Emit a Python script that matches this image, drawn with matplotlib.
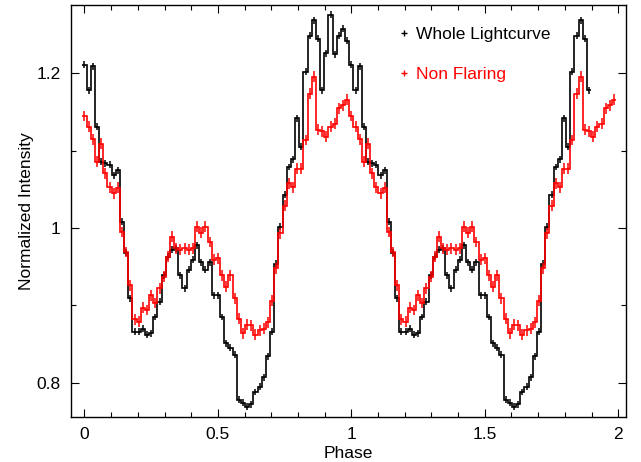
import numpy as np
import matplotlib
matplotlib.use('Agg')
import matplotlib.pyplot as plt
from matplotlib.lines import Line2D
from matplotlib.ticker import MultipleLocator, FormatStrFormatter

plt.rcParams['font.family'] = ['Liberation Sans', 'DejaVu Sans']

# one cycle of the folded lightcurve, 64 phase bins (bin k centred on k/64)
n_bins = 64
whole = [1.211, 1.178, 1.209, 1.131, 1.086, 1.084, 1.082, 1.068, 1.075,
         1.008, 0.968, 0.909, 0.866, 0.866, 0.870, 0.862, 0.864, 0.885, 0.905, 0.939,
         0.963, 0.972, 0.974, 0.939, 0.922, 0.946, 0.959, 0.978, 0.956, 0.946,
         0.956, 0.913, 0.913, 0.885, 0.851, 0.845, 0.836, 0.778, 0.774, 0.769,
         0.772, 0.788, 0.795, 0.807, 0.834, 0.866, 0.954, 1.002, 1.043, 1.079,
         1.089, 1.142, 1.105, 1.202, 1.249, 1.269, 1.245, 1.178, 1.226, 1.276,
         1.225, 1.249, 1.258, 1.242]
non_flaring = [1.145, 1.131, 1.115, 1.086, 1.109, 1.071, 1.053, 1.045, 1.052, 0.995,
               0.969, 0.926, 0.882, 0.879, 0.897, 0.894, 0.913, 0.903, 0.922, 0.937,
               0.963, 0.989, 0.974, 0.972, 0.974, 0.972, 0.974, 1.002, 0.994, 1.002,
               0.982, 0.959, 0.961, 0.939, 0.924, 0.939, 0.909, 0.883, 0.864, 0.875,
               0.874, 0.862, 0.868, 0.870, 0.878, 0.906, 0.948, 0.993, 1.029, 1.058,
               1.053, 1.077, 1.077, 1.114, 1.174, 1.196, 1.127, 1.125, 1.118, 1.131,
               1.135, 1.155, 1.159, 1.166]
whole_err = 0.0045
non_flaring_err = 0.007
whole_bins_cycle2 = 58  # whole lightcurve stops near phase 1.89

labels = ['Whole Lightcurve', 'Non Flaring']
colors = ['black', 'red']

fig = plt.figure(figsize=(6.41, 4.62), dpi=100)
ax = fig.add_axes([0.111, 0.098, 0.866, 0.892])

edges = (np.arange(2 * n_bins + 1) - 0.5) / n_bins
centers = np.arange(2 * n_bins) / n_bins

black_vals = np.array(whole + whole[:whole_bins_cycle2])
red_vals = np.array(non_flaring * 2)
nb = len(black_vals)

ax.stairs(black_vals, edges[:nb + 1], baseline=None, color=colors[0], lw=1.2)
ax.errorbar(centers[:nb], black_vals, yerr=whole_err, fmt='none',
            ecolor=colors[0], elinewidth=1.1)
ax.stairs(red_vals, edges, baseline=None, color=colors[1], lw=1.2)
ax.errorbar(centers, red_vals, yerr=non_flaring_err, fmt='none',
            ecolor=colors[1], elinewidth=1.1)

ax.set_xlim(-0.05, 2.03)
ax.set_ylim(0.756, 1.289)
ax.xaxis.set_major_locator(MultipleLocator(0.5))
ax.xaxis.set_minor_locator(MultipleLocator(0.1))
ax.yaxis.set_major_locator(MultipleLocator(0.2))
ax.yaxis.set_minor_locator(MultipleLocator(0.1))
ax.xaxis.set_major_formatter(FormatStrFormatter('%g'))
ax.yaxis.set_major_formatter(FormatStrFormatter('%g'))
ax.tick_params(which='both', direction='in', top=True, right=True,
               labelsize=12.5, pad=7.5, width=0.8)
ax.tick_params(which='major', length=6)
ax.tick_params(which='minor', length=3.5)
for s in ax.spines.values():
    s.set_linewidth(1.0)

ax.set_xlabel('Phase', fontsize=12.5, labelpad=3)
ax.set_ylabel('Normalized Intensity', fontsize=12.5, labelpad=2)

handles = [Line2D([], [], color=c, marker='+', ls='none', ms=4) for c in colors]
ax.legend(handles, labels, loc='upper left', bbox_to_anchor=(0.590, 0.946),
          frameon=False, fontsize=12.5, handlelength=0.6, handletextpad=0.4,
          labelspacing=1.41, borderpad=0, borderaxespad=0, labelcolor=colors)

fig.savefig('out.png', dpi=100)
